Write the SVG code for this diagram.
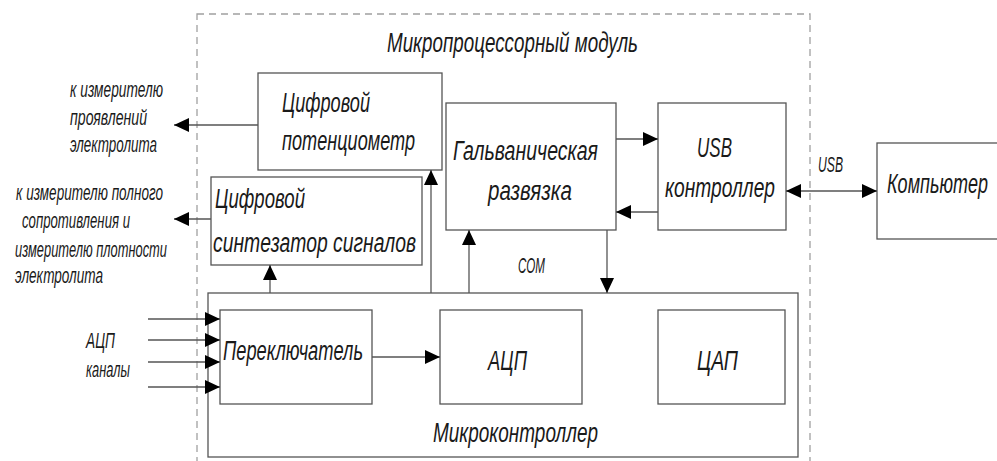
<svg xmlns="http://www.w3.org/2000/svg" width="997" height="461" viewBox="0 0 997 461">
  <style>
    .box { fill: #fff; stroke: #555; stroke-width: 1.3; }
    .frame { fill: none; stroke: #a0a0a0; stroke-width: 1.3; stroke-dasharray: 7 5; }
    .wire { fill: none; stroke: #555; stroke-width: 1.3; }
    .arr { marker-end: url(#ah); }
    .t { font-family: "Liberation Sans", "DejaVu Sans", sans-serif; font-style: italic; fill: #1a1a1a; }
    .big { font-size: 27px; }
    .sm { font-size: 22px; }
  </style>
  <defs>
    <marker id="ah" markerUnits="userSpaceOnUse" markerWidth="16" markerHeight="14" refX="15" refY="7" orient="auto-start-reverse">
      <path d="M0,0 L15,7 L0,14 Z" fill="#000"/>
    </marker>
  </defs>

  <rect width="997" height="461" fill="#fff"/>

  <!-- microprocessor module boundary -->
  <g id="module">
    <rect class="frame" x="197" y="14" width="613" height="470"/>
    <text class="t big" x="387" y="52" textLength="251" lengthAdjust="spacingAndGlyphs">Микропроцессорный модуль</text>
  </g>

  <g id="potentiometer">
    <rect class="box" x="258" y="73" width="184" height="97"/>
    <text class="t big" x="282" y="112" textLength="88" lengthAdjust="spacingAndGlyphs">Цифровой</text>
    <text class="t big" x="282" y="150" textLength="133" lengthAdjust="spacingAndGlyphs">потенциометр</text>
  </g>

  <g id="synthesizer">
    <rect class="box" x="211" y="177" width="211" height="88"/>
    <text class="t big" x="215" y="208" textLength="90" lengthAdjust="spacingAndGlyphs">Цифровой</text>
    <text class="t big" x="213" y="252" textLength="203" lengthAdjust="spacingAndGlyphs">синтезатор сигналов</text>
  </g>

  <g id="isolation">
    <rect class="box" x="446" y="103" width="170" height="127"/>
    <text class="t big" x="453" y="160" textLength="145" lengthAdjust="spacingAndGlyphs">Гальваническая</text>
    <text class="t big" x="488" y="200" textLength="84" lengthAdjust="spacingAndGlyphs">развязка</text>
  </g>

  <g id="usb-controller">
    <rect class="box" x="658" y="103" width="128" height="127"/>
    <text class="t big" x="697" y="157" textLength="35" lengthAdjust="spacingAndGlyphs">USB</text>
    <text class="t big" x="665" y="197" textLength="110" lengthAdjust="spacingAndGlyphs">контроллер</text>
  </g>

  <g id="computer">
    <rect class="box" x="877" y="143" width="130" height="96"/>
    <text class="t big" x="887" y="193" textLength="101" lengthAdjust="spacingAndGlyphs">Компьютер</text>
  </g>

  <g id="microcontroller">
    <rect class="box" x="208" y="293" width="590" height="164"/>
    <text class="t big" x="433" y="442" textLength="165" lengthAdjust="spacingAndGlyphs">Микроконтроллер</text>
  </g>

  <g id="switch">
    <rect class="box" x="220" y="310" width="152" height="94"/>
    <text class="t big" x="223" y="360" textLength="140" lengthAdjust="spacingAndGlyphs">Переключатель</text>
  </g>

  <g id="adc">
    <rect class="box" x="440" y="310" width="142" height="94"/>
    <text class="t big" x="488" y="370" textLength="39" lengthAdjust="spacingAndGlyphs">АЦП</text>
  </g>

  <g id="dac">
    <rect class="box" x="658" y="310" width="127" height="94"/>
    <text class="t big" x="697" y="370" textLength="41" lengthAdjust="spacingAndGlyphs">ЦАП</text>
  </g>

  <!-- outside labels -->
  <g id="labels">
    <text class="t sm" x="70" y="97" textLength="93" lengthAdjust="spacingAndGlyphs">к измерителю</text>
    <text class="t sm" x="70" y="125" textLength="77" lengthAdjust="spacingAndGlyphs">проявлений</text>
    <text class="t sm" x="70" y="152" textLength="87" lengthAdjust="spacingAndGlyphs">электролита</text>
    <text class="t sm" x="16" y="200" textLength="147" lengthAdjust="spacingAndGlyphs">к измерителю полного</text>
    <text class="t sm" x="22" y="228" textLength="108" lengthAdjust="spacingAndGlyphs">сопротивления и</text>
    <text class="t sm" x="15" y="257" textLength="152" lengthAdjust="spacingAndGlyphs">измерителю плотности</text>
    <text class="t sm" x="15" y="283" textLength="88" lengthAdjust="spacingAndGlyphs">электролита</text>
    <text class="t sm" x="86" y="348" textLength="29" lengthAdjust="spacingAndGlyphs">АЦП</text>
    <text class="t sm" x="86" y="377" textLength="44" lengthAdjust="spacingAndGlyphs">каналы</text>
    <text class="t sm" x="518" y="273" textLength="27" lengthAdjust="spacingAndGlyphs">COM</text>
    <text class="t sm" x="818" y="172" textLength="25" lengthAdjust="spacingAndGlyphs">USB</text>
  </g>

  <!-- connectors -->
  <g id="connectors">
    <line class="wire arr" x1="258" y1="125" x2="174" y2="125"/>
    <line class="wire arr" x1="211" y1="219" x2="174" y2="219"/>
    <line class="wire arr" x1="616" y1="139" x2="658" y2="139"/>
    <line class="wire arr" x1="658" y1="212" x2="616" y2="212"/>
    <line class="wire" x1="786" y1="191" x2="877" y2="191" marker-start="url(#ah)" marker-end="url(#ah)"/>
    <line class="wire arr" x1="607" y1="230" x2="607" y2="293"/>
    <line class="wire arr" x1="469" y1="293" x2="469" y2="230"/>
    <line class="wire arr" x1="431" y1="293" x2="431" y2="170"/>
    <line class="wire arr" x1="270" y1="293" x2="270" y2="265"/>
    <line class="wire arr" x1="372" y1="357" x2="440" y2="357"/>
    <line class="wire arr" x1="148" y1="319" x2="220" y2="319"/>
    <line class="wire arr" x1="148" y1="340" x2="220" y2="340"/>
    <line class="wire arr" x1="148" y1="362" x2="220" y2="362"/>
    <line class="wire arr" x1="148" y1="387" x2="220" y2="387"/>
  </g>
</svg>
